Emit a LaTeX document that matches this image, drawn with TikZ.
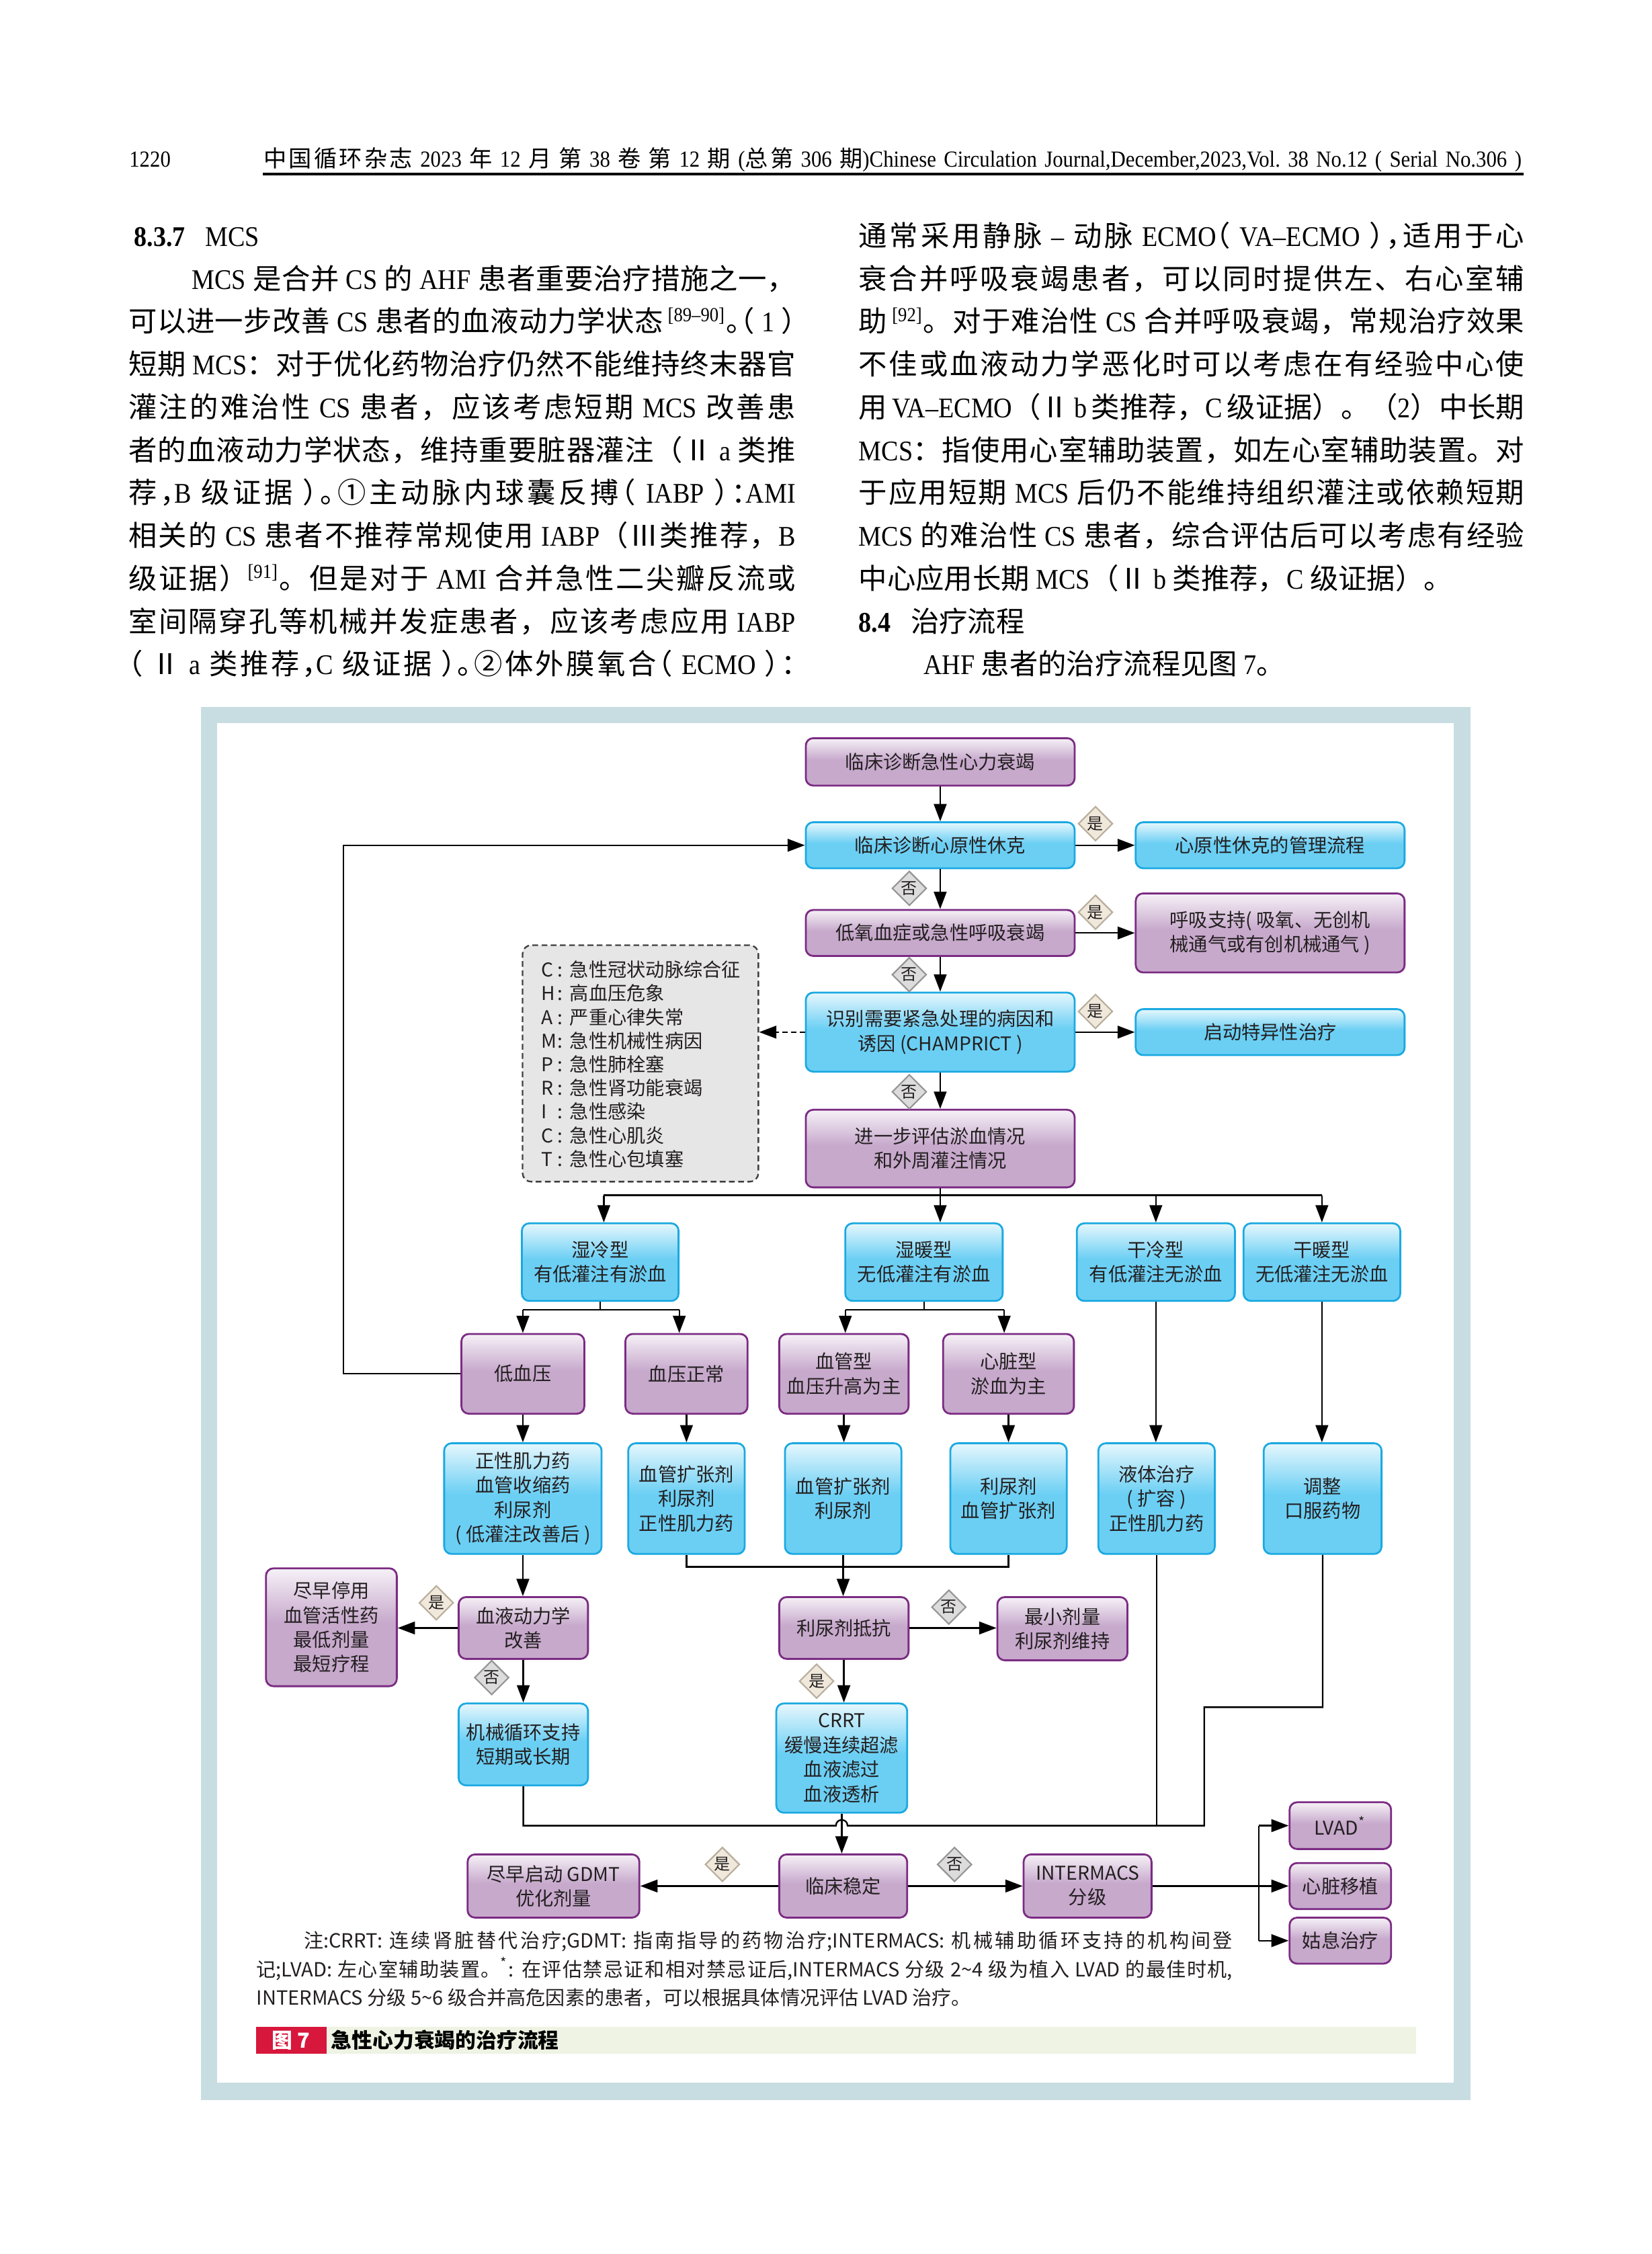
\documentclass[tikz,border=0pt]{standalone}
\usepackage{fontspec}
\setmainfont{Liberation Serif}[FakeStretch=0.9]
\newfontfamily\cjkn{Noto Sans CJK SC}
\newfontfamily\cjkh{Noto Sans CJK SC}[RawFeature=+halt]
\usetikzlibrary{shapes.geometric,arrows.meta}
\XeTeXinterchartokenstate=1
\newXeTeXintercharclass\cjkcls
\def\setcls#1#2{\count255=#1\relax\loop\XeTeXcharclass\count255=\cjkcls\relax\advance\count255 by 1\relax\ifnum\count255<#2\relax\repeat}
\setcls{"2150}{"2190}
\setcls{"2460}{"2500}
\setcls{"3000}{"3040}
\setcls{"4E00}{"A000}
\setcls{"FF00}{"FFF0}
\def\cjkcur{\cjkn}
\def\latfont{\rmfamily}
\def\cjkglue{\hskip0pt plus 0.1em\relax}
\XeTeXinterchartoks 0 \cjkcls = {\cjkcur}
\XeTeXinterchartoks 255 \cjkcls = {\cjkcur}
\XeTeXinterchartoks 4095 \cjkcls = {\cjkcur}
\XeTeXinterchartoks \cjkcls 0 = {\latfont}
\XeTeXinterchartoks \cjkcls 255 = {\latfont}
\XeTeXinterchartoks \cjkcls 4095 = {\latfont}
\XeTeXinterchartoks \cjkcls \cjkcls = {\cjkglue}
\newcommand\bodyfont{\fontsize{9.9pt}{14.9pt}\selectfont\frenchspacing\def\cjkcur{\cjkn}\def\latfont{\rmfamily}\rmfamily}
\newcommand\tightcjk{\def\cjkcur{\cjkh}}
\newcommand\flowfont{\fontsize{6.6pt}{8.5pt}\selectfont\def\cjkcur{\cjkn}\def\latfont{\cjkn}\cjkn}
\newcommand\notefont{\fontsize{6.8pt}{8pt}\selectfont\def\cjkcur{\cjkn}\def\latfont{\cjkn}\cjkn}
\newcommand\hdrfont{\fontsize{8pt}{9pt}\selectfont\frenchspacing\def\cjkcur{\cjkn}\def\latfont{\rmfamily}\rmfamily}
\newcommand\pgnfont{\fontsize{8pt}{9pt}\selectfont\rmfamily}
\newcommand\capfont{\fontsize{7.2pt}{8pt}\selectfont\def\cjkcur{\cjkn\bfseries}\def\latfont{\cjkn\bfseries}\cjkn\bfseries}
\newcommand\diafont{\fontsize{5.6pt}{6pt}\selectfont\def\cjkcur{\cjkn}\def\latfont{\cjkn}\cjkn}
\definecolor{framec}{HTML}{C8DDE1}
\definecolor{pline}{HTML}{7B2B83}
\definecolor{ptop}{HTML}{F6F1F7}
\definecolor{pbot}{HTML}{C7A9CC}
\definecolor{bline}{HTML}{1CA9E1}
\definecolor{btop}{HTML}{E6F7FD}
\definecolor{bbot}{HTML}{6BCFF4}
\definecolor{yfill}{HTML}{EFE8DB}
\definecolor{ydraw}{HTML}{B9AE9C}
\definecolor{nfill}{HTML}{DCDCDC}
\definecolor{ndraw}{HTML}{959595}
\definecolor{champfill}{HTML}{E6E6E6}
\definecolor{capbg}{HTML}{EEF3E3}
\definecolor{capred}{HTML}{D7173C}
\definecolor{txt}{HTML}{231F20}
\pgfdeclareverticalshading{purpsh}{100bp}{color(0bp)=(pbot); color(52bp)=(pbot); color(75bp)=(ptop); color(100bp)=(ptop)}
\pgfdeclareverticalshading{bluesh}{100bp}{color(0bp)=(bbot); color(52bp)=(bbot); color(75bp)=(btop); color(100bp)=(btop)}
\tikzset{
  wh/.style 2 args={minimum width=#1*0.5pt, minimum height=#2*0.5pt},
  box/.style={rounded corners=2.6pt, line width=0.65pt, inner sep=0pt, align=center, font=\flowfont, text=txt},
  pbox/.style={box, draw=pline, shade, shading=purpsh},
  bbox/.style={box, draw=bline, shade, shading=bluesh},
  dia/.style={diamond, inner sep=0pt, minimum width=12pt, minimum height=12pt, line width=0.5pt, font=\diafont, text=txt},
  yesd/.style={dia, draw=ydraw, fill=yfill},
  nod/.style={dia, draw=ndraw, fill=nfill},
  champ/.style={draw=black!75, dash pattern=on 2pt off 1.2pt, fill=champfill, rounded corners=3pt, line width=0.55pt, inner sep=0pt},
  ln/.style={line width=0.55pt, draw=black},
  arr/.style={ln, -{Triangle[length=6pt,width=4.4pt]}},
  darr/.style={ln, dash pattern=on 1.8pt off 1.2pt, -{Triangle[length=6pt,width=4.4pt]}},
  bl/.style={anchor=base west, inner sep=0pt, font=\bodyfont},
  nl/.style={anchor=base west, inner sep=0pt, font=\notefont, text=txt},
  cl/.style={anchor=base west, inner sep=0pt, font=\flowfont, text=txt},
}
\begin{document}
\begin{tikzpicture}[x=0.5pt,y=-0.5pt]
\useasboundingbox (0,0) rectangle (1149,1568);
\fill[white] (0,0) rectangle (1149,1568);
% header
\node[anchor=base west, inner sep=0pt, font=\pgnfont] (pgno) at (89.5,116) {1220};
\node[anchor=base west, inner sep=0pt, font=\hdrfont] (hdr) at (183,116) {\hbox to 437.5pt{中国循环杂志 2023 年 12 月 第 38 卷 第 12 期 (总第 306 期)Chinese Circulation Journal,December,2023,Vol. 38 No.12 ( Serial No.306 )}};
\draw[line width=0.8pt] (183,121) -- (1060,121);
% left column
\node[bl] (l1) at (93,171.3) {\textbf{8.3.7}\hspace{0.7em}MCS};
\node[bl] (l2) at (133,201.1) {\hbox to 210pt{MCS 是合并 CS 的 AHF 患者重要治疗措施之一，}};
\node[bl] (l3) at (89,230.9) {\tightcjk\hbox to 232pt{可以进一步改善 CS 患者的血液动力学状态\,\textsuperscript{[89–90]}。（ 1 ）}};
\node[bl] (l4) at (89,260.7) {\hbox to 232pt{短期 MCS：对于优化药物治疗仍然不能维持终末器官}};
\node[bl] (l5) at (89,290.5) {\hbox to 232pt{灌注的难治性 CS 患者，应该考虑短期 MCS 改善患}};
\node[bl] (l6) at (89,320.3) {\hbox to 232pt{者的血液动力学状态，维持重要脏器灌注（Ⅱ a 类推}};
\node[bl] (l7) at (89,350.1) {\tightcjk\hbox to 232pt{荐，B 级证据 ）。①主动脉内球囊反搏（ IABP ）：AMI}};
\node[bl] (l8) at (89,379.9) {\hbox to 232pt{相关的 CS 患者不推荐常规使用 IABP（Ⅲ类推荐，B}};
\node[bl] (l9) at (89,409.7) {\hbox to 232pt{级证据）\textsuperscript{[91]}。但是对于 AMI 合并急性二尖瓣反流或}};
\node[bl] (l10) at (89,439.5) {\hbox to 232pt{室间隔穿孔等机械并发症患者，应该考虑应用 IABP}};
\node[bl] (l11) at (89,469.3) {\tightcjk\hbox to 232pt{（ Ⅱ a 类推荐，C 级证据 ）。②体外膜氧合（ ECMO ）：}};
% right column
\node[bl] (r1) at (597,171.3) {\tightcjk\hbox to 231.5pt{通常采用静脉 – 动脉 ECMO（ VA–ECMO ），适用于心}};
\node[bl] (r2) at (597,201.1) {\hbox to 231.5pt{衰合并呼吸衰竭患者，可以同时提供左、右心室辅}};
\node[bl] (r3) at (597,230.9) {\hbox to 231.5pt{助\,\textsuperscript{[92]}。对于难治性 CS 合并呼吸衰竭，常规治疗效果}};
\node[bl] (r4) at (597,260.7) {\hbox to 231.5pt{不佳或血液动力学恶化时可以考虑在有经验中心使}};
\node[bl] (r5) at (597,290.5) {\hbox to 231.5pt{用 VA–ECMO（Ⅱ b 类推荐，C 级证据）。（2）中长期}};
\node[bl] (r6) at (597,320.3) {\hbox to 231.5pt{MCS：指使用心室辅助装置，如左心室辅助装置。对}};
\node[bl] (r7) at (597,350.1) {\hbox to 231.5pt{于应用短期 MCS 后仍不能维持组织灌注或依赖短期}};
\node[bl] (r8) at (597,379.9) {\hbox to 231.5pt{MCS 的难治性 CS 患者，综合评估后可以考虑有经验}};
\node[bl] (r9) at (597,409.7) {中心应用长期 MCS（Ⅱ b 类推荐，C 级证据）。};
\node[bl] (r10) at (597,439.5) {\textbf{8.4}\hspace{0.7em}治疗流程};
\node[bl] (r11) at (642,469.3) {AHF 患者的治疗流程见图 7。};
% figure frame
\fill[framec] (140,492) rectangle (1023,1461);
\fill[white] (151,503) rectangle (1011,1449);
% top chain
\node[pbox,wh={187}{33}] (n1) at (654,530) {临床诊断急性心力衰竭};
\node[bbox,wh={187}{32}] (n2) at (654,588) {临床诊断心原性休克};
\node[bbox,wh={187}{32}] (n3) at (883.5,588) {心原性休克的管理流程};
\node[pbox,wh={187}{32}] (n4) at (654,649) {低氧血症或急性呼吸衰竭};
\node[pbox,wh={187}{55}] (n5) at (883.5,649) {呼吸支持( 吸氧、无创机\\械通气或有创机械通气 )};
\node[bbox,wh={187}{55}] (n6) at (654,718) {识别需要紧急处理的病因和\\诱因 (CHAMPRICT )};
\node[bbox,wh={187}{32}] (n7) at (883.5,718) {启动特异性治疗};
\node[pbox,wh={187}{54}] (n8) at (654,799) {进一步评估淤血情况\\和外周灌注情况};
\node[champ,wh={164}{164.5}] (ch) at (445.5,739.8) {};
\foreach \L/\T [count=\i] in {C/急性冠状动脉综合征,H/高血压危象,A/严重心律失常,M/急性机械性病因,P/急性肺栓塞,R/急性肾功能衰竭,I/急性感染,C/急性心肌炎,T/急性心包填塞}
  \node[cl] (cl\i) at (376,{679.6+16.45*(\i-1)}) {\makebox[5.8pt][l]{\L}\makebox[4.2pt][l]{:}\T};
% type boxes
\node[bbox,wh={109}{54}] (t1) at (417.5,878) {湿冷型\\有低灌注有淤血};
\node[bbox,wh={109.5}{54}] (t2) at (642.7,878) {湿暖型\\无低灌注有淤血};
\node[bbox,wh={110}{54}] (t3) at (804,878) {干冷型\\有低灌注无淤血};
\node[bbox,wh={109}{54}] (t4) at (919.5,878) {干暖型\\无低灌注无淤血};
% purple row
\node[pbox,wh={85.5}{55.5}] (p1) at (363.7,955.7) {低血压};
\node[pbox,wh={85}{55.5}] (p2) at (477.5,955.7) {血压正常};
\node[pbox,wh={90}{55.5}] (p3) at (587,955.7) {血管型\\血压升高为主};
\node[pbox,wh={91}{55.5}] (p4) at (701.5,955.7) {心脏型\\淤血为主};
% treatments
\node[bbox,wh={109.5}{77}] (b1) at (363.7,1042.5) {正性肌力药\\血管收缩药\\利尿剂\\( 低灌注改善后 )};
\node[bbox,wh={81}{77}] (b2) at (477.5,1042.5) {血管扩张剂\\利尿剂\\正性肌力药};
\node[bbox,wh={81}{77}] (b3) at (586.5,1042.5) {血管扩张剂\\利尿剂};
\node[bbox,wh={81}{77}] (b4) at (701.5,1042.5) {利尿剂\\血管扩张剂};
\node[bbox,wh={81}{77}] (b5) at (804.5,1042.5) {液体治疗\\( 扩容 )\\正性肌力药};
\node[bbox,wh={82}{77}] (b6) at (920,1042.5) {调整\\口服药物};
% lower
\node[pbox,wh={90}{43}] (h1) at (364,1132.5) {血液动力学\\改善};
\node[pbox,wh={91}{82}] (s1) at (230.5,1132) {尽早停用\\血管活性药\\最低剂量\\最短疗程};
\node[bbox,wh={90}{57}] (m1) at (364,1213.5) {机械循环支持\\短期或长期};
\node[pbox,wh={90}{43}] (d1) at (587,1132.5) {利尿剂抵抗};
\node[pbox,wh={90.5}{44}] (d2) at (739,1133) {最小剂量\\利尿剂维持};
\node[bbox,wh={91}{76}] (c1) at (585.5,1223) {CRRT\\缓慢连续超滤\\血液滤过\\血液透析};
\node[pbox,wh={89}{44}] (k1) at (586.5,1312) {临床稳定};
\node[pbox,wh={119.5}{44}] (g1) at (385,1312) {尽早启动 GDMT\\优化剂量};
\node[pbox,wh={89}{44}] (i1) at (756.5,1312) {INTERMACS\\分级};
\node[pbox,wh={70.6}{32.5}] (v1) at (932.3,1270) {LVAD\textsuperscript{*}};
\node[pbox,wh={70.6}{32}] (v2) at (932.3,1312) {心脏移植};
\node[pbox,wh={70.6}{32}] (v3) at (932.3,1350) {姑息治疗};
% diamonds
\node[yesd] (y1) at (762,573) {是};
\node[nod] (o1) at (632.5,618) {否};
\node[yesd] (y2) at (762,634.6) {是};
\node[nod] (o2) at (632.5,678) {否};
\node[yesd] (y3) at (762,703.6) {是};
\node[nod] (o3) at (632.5,759.5) {否};
\node[yesd] (y4) at (303.5,1115) {是};
\node[nod] (o4) at (342,1167) {否};
\node[nod] (o5) at (660,1118) {否};
\node[yesd] (y5) at (568,1169.5) {是};
\node[yesd] (y6) at (502.5,1297) {是};
\node[nod] (o6) at (664,1297) {否};
% connectors top
\draw[arr] (n1) -- (n2);
\draw[arr] (n2) -- (n3);
\draw[arr] (n2) -- (n4);
\draw[arr] (n4) -- (n5);
\draw[arr] (n4) -- (n6);
\draw[arr] (n6) -- (n7);
\draw[arr] (n6) -- (n8);
\draw[darr] (n6.west) -- (n6.west -| ch.east);
% bus to types
\coordinate (bus) at (654,831.5);
\coordinate (busL) at (420,831.5);
\coordinate (busR) at (919.5,831.5);
\draw[ln] (n8.south) -- (bus);
\draw[ln] (busL) -- (busR);
\draw[arr] (busL) -- (busL |- t1.north);
\draw[arr] (bus) -- (bus |- t2.north);
\draw[arr] (t3.north |- bus) -- (t3.north);
\draw[arr] (t4.north |- bus) -- (t4.north);
% forks
\coordinate (f1L) at (363.7,911);
\coordinate (f1R) at (472.5,911);
\draw[ln] (t1.south) -- (t1.south |- f1L);
\draw[ln] (f1L) -- (f1R);
\draw[arr] (f1L) -- (f1L |- p1.north);
\draw[arr] (f1R) -- (f1R |- p2.north);
\coordinate (f2L) at (588,911);
\coordinate (f2R) at (698.5,911);
\draw[ln] (t2.south) -- (t2.south |- f2L);
\draw[ln] (f2L) -- (f2R);
\draw[arr] (f2L) -- (f2L |- p3.north);
\draw[arr] (f2R) -- (f2R |- p4.north);
\draw[arr] (t3.south) -- (t3.south |- b5.north);
\draw[arr] (t4.south) -- (t4.south |- b6.north);
\draw[arr] (p1) -- (b1);
\draw[arr] (p2) -- (b2);
\draw[arr] (p3.south) -- (p3.south |- b3.north);
\draw[arr] (p4) -- (b4);
% feedback
\coordinate (fb) at (239,700);
\draw[arr] (p1.west) -- (p1.west -| fb) -- (fb |- n2.west) -- (n2.west);
% merge
\coordinate (mg) at (600,1090);
\draw[ln] (b2.south) -- (b2.south |- mg) -- (b4.south |- mg) -- (b4.south);
\draw[arr] (b3.south) -- (b3.south |- d1.north);
\draw[arr] (b1.south) -- (b1.south |- h1.north);
\draw[arr] (h1.west) -- (h1.west -| s1.east);
\draw[arr] (h1) -- (m1);
\draw[arr] (d1.east) -- (d1.east -| d2.west);
\draw[arr] (d1.south) -- (d1.south |- c1.north);
% bottom bus
\coordinate (bb) at (600,1270);
\coordinate (jl) at (581.5,1270);
\coordinate (jr) at (589.5,1270);
\coordinate (cr1) at (837.6,1270);
\coordinate (cr2) at (837.6,1187.6);
\draw[ln] (m1.south) -- (m1.south |- bb) -- (jl) .. controls (581.5,1264.7) and (589.5,1264.7) .. (jr) -- (cr1) -- (cr2) -- (cr2 -| b6.south) -- (b6.south);
\draw[ln] (b5.south) -- (b5.south |- bb);
\draw[arr] (c1.south) -- (c1.south |- k1.north);
\draw[arr] (k1) -- (g1);
\draw[arr] (k1) -- (i1);
\coordinate (fk) at (875.5,1312);
\draw[arr] (i1.east) -- (v2.west);
\draw[ln] (fk |- v1.west) -- (fk |- v3.west);
\draw[arr] (fk |- v1.west) -- (v1.west);
\draw[arr] (fk |- v3.west) -- (v3.west);
% notes
\node[nl] (nt1) at (211,1355) {\hbox to 323pt{注:CRRT: 连续肾脏替代治疗;GDMT: 指南指导的药物治疗;INTERMACS: 机械辅助循环支持的机构间登}};
\node[nl] (nt2) at (178,1375) {\hbox to 339.5pt{记;LVAD: 左心室辅助装置。\textsuperscript{*}: 在评估禁忌证和相对禁忌证后,INTERMACS 分级 2\textasciitilde 4 级为植入 LVAD 的最佳时机,}};
\node[nl] (nt3) at (178,1395) {INTERMACS 分级 5\textasciitilde 6 级合并高危因素的患者，可以根据具体情况评估 LVAD 治疗。};
% caption
\fill[capbg] (178,1410) rectangle (985,1428.7);
\node[fill=capred, inner sep=0pt, minimum width=24.5pt, minimum height=9.35pt, text=white, font=\capfont] (fig) at (202.5,1419.4) {图 7};
\node[anchor=west, inner sep=0pt, font=\capfont] (capt) at (230,1419.4) {急性心力衰竭的治疗流程};
\end{tikzpicture}
\end{document}
